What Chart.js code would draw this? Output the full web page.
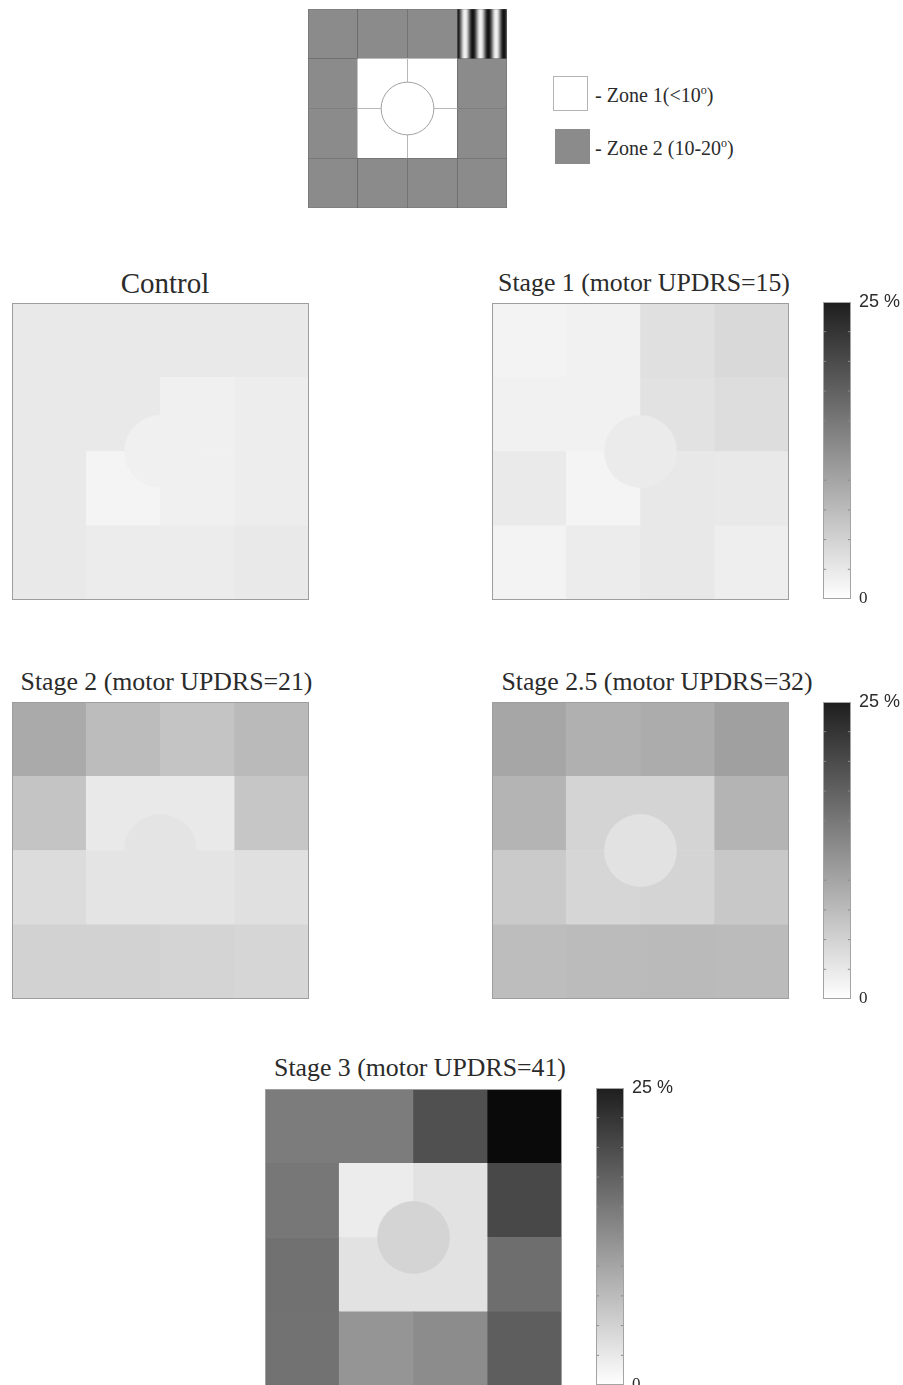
<!DOCTYPE html>
<html>
<head>
<meta charset="utf-8">
<title>Visual field impairment by disease stage</title>
<script src="https://cdn.jsdelivr.net/npm/chart.js@4.4.1/dist/chart.umd.min.js"></script>
<style>
  html, body { margin: 0; padding: 0; background: #fff; overflow: hidden; }
  #page { position: relative; width: 903px; height: 1385px; overflow: hidden; }
  #page canvas { position: absolute; display: block; }
  .title {
    position: absolute; transform: translateX(-50%); white-space: nowrap;
    font-family: 'Liberation Serif', 'Times New Roman', serif; color: #2b2b2b; line-height: 1;
  }
  .zone-key { position: absolute; width: 35px; height: 35px; box-sizing: border-box; }
  .zone-text {
    position: absolute; white-space: nowrap; line-height: 1;
    font-family: 'Liberation Serif', 'Times New Roman', serif; font-size: 20px; color: #2b2b2b;
  }
  .zone-text sup { font-size: 12px; line-height: 0; vertical-align: baseline; position: relative; top: -8px; }
</style>
</head>
<body>
<div id="page"></div>
<script>
// ---------------- data ----------------
// 4x4 test grid, top row first. '1' = zone 1, '2' = zone 2, 'S' = grating stimulus (in zone 2)
const zoneLayout = [
  ['2', '2', '2', 'S'],
  ['2', '1', '1', '2'],
  ['2', '1', '1', '2'],
  ['2', '2', '2', '2']
];
const zoneLegend = [
  { zone: '1', text: '- Zone 1(<10', sup: 'o', tail: ')' },
  { zone: '2', text: '- Zone 2 (10-20', sup: 'o', tail: ')' }
];

const panelTitles = [
  'Control',
  'Stage 1 (motor UPDRS=15)',
  'Stage 2 (motor UPDRS=21)',
  'Stage 2.5 (motor UPDRS=32)',
  'Stage 3 (motor UPDRS=41)'
];

// error rate per grid cell (%), top row first
const controlCells = [
  [2.4, 2.4, 2.4, 2.4],
  [2.4, 2.4, 1.7, 2.0],
  [2.5, 1.2, 1.7, 2.0],
  [2.5, 2.1, 2.1, 2.4]
];
const stage1Cells = [
  [1.3, 1.6, 3.4, 4.2],
  [1.6, 1.6, 3.2, 3.8],
  [2.3, 1.2, 2.6, 2.4],
  [1.3, 2.1, 2.6, 1.9]
];
const stage2Cells = [
  [9.4, 7.4, 6.6, 7.7],
  [6.6, 2.4, 2.4, 6.3],
  [3.9, 3.0, 3.0, 3.4],
  [5.0, 5.0, 4.8, 4.6]
];
const stage25Cells = [
  [9.9, 8.8, 9.2, 10.6],
  [8.3, 4.8, 4.8, 8.3],
  [5.9, 4.6, 4.8, 6.1],
  [7.3, 7.6, 7.7, 7.6]
];
const stage3Cells = [
  [14.6, 14.6, 19.4, 27.2],
  [15.1, 2.1, 3.2, 20.3],
  [15.8, 3.2, 3.2, 16.1],
  [15.7, 11.8, 12.8, 17.9]
];
// error rate in the central (foveal) disc, %
const centreValues = [1.7, 2.2, 3.0, 3.2, 4.8];

// colour scale
const colorbarTicks = [0, 2.5, 5, 7.5, 10, 12.5, 15, 17.5, 20, 22.5, 25];
const colorbarLabels = { 0: '0', 25: '25 %' };

// ---------------- layout & style ----------------
const GRID = 4;
const HEAT_SIZE = 297;
const DIAGRAM_SIZE = 199;
const FOVEA_R_HEAT = 0.49;      // disc radius in grid units
const FOVEA_R_DIAGRAM = 0.53;
const GRATING_CYCLES = 3.2;
const BAR_W = 28, BAR_CANVAS_W = 80, BAR_PAD = 20;
const ZONE_FILL = { '1': '#ffffff', '2': '#8b8b8b' };
const TEXT = '#2b2b2b';

const panelLayout = [
  { left: 12,  top: 303,  titleX: 165,   baseline: 293.3,  size: 29,   bar: null },
  { left: 492, top: 303,  titleX: 644,   baseline: 291.7,  size: 25.8, bar: { left: 823, top: 302 } },
  { left: 12,  top: 702,  titleX: 166.5, baseline: 691,    size: 25.8, bar: null },
  { left: 492, top: 702,  titleX: 657,   baseline: 691,    size: 25.8, bar: { left: 823, top: 702 } },
  { left: 265, top: 1089, titleX: 420,   baseline: 1076.7, size: 25.8, bar: { left: 596, top: 1088 } }
];
const panelCells = [controlCells, stage1Cells, stage2Cells, stage25Cells, stage3Cells];

// white (0 %) to near-black (25 %)
function shade(v) {
  const g = Math.round(Math.max(0, Math.min(255, 255 - v * (255 - 30) / 25)));
  return `rgb(${g},${g},${g})`;
}

const page = document.getElementById('page');
function addCanvas(left, top, w, h) {
  const c = document.createElement('canvas');
  c.width = w; c.height = h;
  c.style.left = left + 'px'; c.style.top = top + 'px';
  c.style.width = w + 'px'; c.style.height = h + 'px';
  page.appendChild(c);
  return c;
}

// thin outline round the plot area
const framePlugin = {
  id: 'frame',
  afterDraw(chart, args, opts) {
    if (!opts || !opts.color) return;
    const a = chart.chartArea, ctx = chart.ctx;
    ctx.save();
    ctx.strokeStyle = opts.color;
    ctx.lineWidth = 1;
    ctx.strokeRect(a.left + 0.5, a.top + 0.5, a.width - 1, a.height - 1);
    ctx.restore();
  }
};

const baseOptions = () => ({
  responsive: false,
  animation: false,
  events: [],
  layout: { padding: 0, autoPadding: false },
  plugins: { legend: { display: false }, tooltip: { enabled: false }, title: { display: false } }
});

const gridScales = () => ({
  x: { type: 'linear', min: 0, max: GRID, offset: false, display: false, ticks: { stepSize: 1 } },
  y: { type: 'linear', min: 0, max: GRID, display: false, ticks: { stepSize: 1 } }
});

// disc radius (grid units) converted to pixels through the x scale
function discRadius(r) {
  return (c) => {
    const s = c.chart.scales.x;
    const d = Math.abs(s.getPixelForValue(r) - s.getPixelForValue(0));
    return isFinite(d) ? d : 0;
  };
}

function cellsOf(matrix) {
  const pts = [];
  matrix.forEach((row, r) => row.forEach((v, c) => {
    pts.push({ x: c + 0.5, y: [GRID - 1 - r, GRID - r] });
  }));
  return pts;
}

// ---------------- zone diagram ----------------
function drawZoneDiagram() {
  const canvas = addCanvas(308, 9, DIAGRAM_SIZE, DIAGRAM_SIZE);
  const flat = zoneLayout.flat();
  // extent of the zone-1 block (grid units)
  let rMin = GRID, rMax = -1, cMin = GRID, cMax = -1;
  zoneLayout.forEach((row, r) => row.forEach((z, c) => {
    if (z === '1') { rMin = Math.min(rMin, r); rMax = Math.max(rMax, r); cMin = Math.min(cMin, c); cMax = Math.max(cMax, c); }
  }));
  const yLo = GRID - 1 - rMax, yHi = GRID - rMin, xLo = cMin, xHi = cMax + 1;
  const mid = GRID / 2;

  const fill = (c) => {
    const z = flat[c.dataIndex];
    if (z !== 'S') return ZONE_FILL[z];
    const chart = c.chart, xs = chart.scales.x;
    const col = c.dataIndex % GRID;
    const x0 = xs.getPixelForValue(col), x1 = xs.getPixelForValue(col + 1);
    if (!isFinite(x0) || !isFinite(x1) || x0 === x1) return ZONE_FILL['2'];
    const grad = chart.ctx.createLinearGradient(x0, 0, x1, 0);
    const n = 80;
    for (let i = 0; i <= n; i++) {
      const t = i / n;
      const g = Math.round(130 - 112 * Math.cos(2 * Math.PI * GRATING_CYCLES * t));
      grad.addColorStop(t, `rgb(${g},${g},${g})`);
    }
    return grad;
  };

  const opts = baseOptions();
  opts.scales = gridScales();
  new Chart(canvas, {
    type: 'bar',
    data: {
      datasets: [
        { type: 'scatter', data: [{ x: mid, y: mid }], showLine: false, pointStyle: 'circle',
          pointBackgroundColor: '#ffffff', pointBorderColor: '#a2a2a2', pointBorderWidth: 1,
          pointRadius: discRadius(FOVEA_R_DIAGRAM), clip: false, order: 0 },
        { type: 'line', data: [{ x: mid, y: yLo }, { x: mid, y: yHi }], borderColor: '#b8b8b8', borderWidth: 1,
          pointRadius: 0, fill: false, clip: false, order: 1 },
        { type: 'line', data: [{ x: xLo, y: mid }, { x: xHi, y: mid }], borderColor: '#b8b8b8', borderWidth: 1,
          pointRadius: 0, fill: false, clip: false, order: 1 },
        { type: 'bar', data: cellsOf(zoneLayout), backgroundColor: fill,
          borderColor: '#626262', borderWidth: flat.map(z => z === '1' ? 0 : 0.7), borderSkipped: false,
          barPercentage: 1, categoryPercentage: 1, order: 2 }
      ]
    },
    options: opts
  });

  // legend keys and text
  const keyPos = [{ left: 553, top: 76 }, { left: 555, top: 129 }];
  const textBase = [101.7, 155];
  zoneLegend.forEach((item, i) => {
    const key = document.createElement('div');
    key.className = 'zone-key';
    key.style.left = keyPos[i].left + 'px';
    key.style.top = keyPos[i].top + 'px';
    key.style.background = ZONE_FILL[item.zone];
    key.style.border = item.zone === '1' ? '1px solid #b4b4b4' : 'none';
    page.appendChild(key);
    const t = document.createElement('div');
    t.className = 'zone-text';
    t.style.left = '595px';
    t.style.top = (textBase[i] - 0.8375 * 20) + 'px';
    t.append(item.text);
    const s = document.createElement('sup');
    s.textContent = item.sup;
    t.appendChild(s);
    t.append(item.tail);
    page.appendChild(t);
  });
}

// ---------------- heat maps ----------------
function drawHeatmap(i) {
  const L = panelLayout[i];
  const cells = panelCells[i];
  const canvas = addCanvas(L.left, L.top, HEAT_SIZE, HEAT_SIZE);
  const opts = baseOptions();
  opts.scales = gridScales();
  opts.plugins.frame = { color: '#9e9e9e' };
  new Chart(canvas, {
    type: 'bar',
    data: {
      datasets: [
        { type: 'scatter', data: [{ x: GRID / 2, y: GRID / 2 }], showLine: false, pointStyle: 'circle',
          pointBackgroundColor: shade(centreValues[i]), pointBorderWidth: 0,
          pointRadius: discRadius(FOVEA_R_HEAT), clip: false, order: 0 },
        { type: 'bar', data: cellsOf(cells), backgroundColor: cells.flat().map(shade), borderWidth: 0,
          barPercentage: 1, categoryPercentage: 1, order: 1 }
      ]
    },
    options: opts,
    plugins: [framePlugin]
  });

  const title = document.createElement('div');
  title.className = 'title';
  title.textContent = panelTitles[i];
  title.style.fontSize = L.size + 'px';
  title.style.left = L.titleX + 'px';
  title.style.top = (L.baseline - 0.8375 * L.size) + 'px';
  page.appendChild(title);

  if (L.bar) drawColorbar(L.bar);
}

// ---------------- colour bar ----------------
function drawColorbar(pos) {
  const canvas = addCanvas(pos.left, pos.top - BAR_PAD, BAR_CANVAS_W, HEAT_SIZE + 2 * BAR_PAD);
  const cbMax = colorbarTicks[colorbarTicks.length - 1];
  const inner = colorbarTicks.slice(1, -1);
  const inset = 0.055;
  const marks = [];
  inner.forEach(t => { marks.push({ x: inset, y: t }); marks.push({ x: 1 - inset, y: t }); });

  const gradient = (c) => {
    const chart = c.chart, ys = chart.scales.y;
    const y0 = ys.getPixelForValue(0), y1 = ys.getPixelForValue(cbMax);
    if (!isFinite(y0) || !isFinite(y1) || y0 === y1) return shade(cbMax / 2);
    const g = chart.ctx.createLinearGradient(0, y0, 0, y1);
    g.addColorStop(0, shade(0));
    g.addColorStop(1, shade(cbMax));
    return g;
  };

  const opts = baseOptions();
  opts.layout = { padding: { top: BAR_PAD, bottom: BAR_PAD, left: 0, right: 0 }, autoPadding: false };
  opts.plugins.frame = { color: '#a4a4a4' };
  opts.scales = {
    x: { type: 'linear', min: 0, max: 1, offset: false, display: false, ticks: { stepSize: 1 } },
    y: {
      type: 'linear', position: 'right', min: 0, max: cbMax,
      grid: { display: false, drawTicks: false }, border: { display: false },
      afterBuildTicks: (axis) => { axis.ticks = colorbarTicks.map(value => ({ value })); },
      afterFit: (axis) => { axis.width = BAR_CANVAS_W - BAR_W; },
      ticks: {
        autoSkip: false, padding: 8, color: TEXT,
        callback: (v) => (colorbarLabels[v] !== undefined ? colorbarLabels[v] : ''),
        font: (c) => (c.tick && c.tick.value === 0
          ? { family: "'Liberation Serif', 'Times New Roman', serif", size: 17 }
          : { family: "'Liberation Sans', Arial, sans-serif", size: 18 })
      }
    }
  };

  new Chart(canvas, {
    type: 'bar',
    data: {
      datasets: [
        { type: 'scatter', data: marks, pointStyle: 'line', radius: 1.6, borderColor: '#8a8a8a',
          borderWidth: 1, showLine: false, order: 0 },
        { type: 'bar', data: [{ x: 0.5, y: [0, cbMax] }], backgroundColor: gradient, borderWidth: 0,
          barPercentage: 1, categoryPercentage: 1, order: 1 }
      ]
    },
    options: opts,
    plugins: [framePlugin]
  });
}

drawZoneDiagram();
panelTitles.forEach((_, i) => drawHeatmap(i));
</script>
</body>
</html>
